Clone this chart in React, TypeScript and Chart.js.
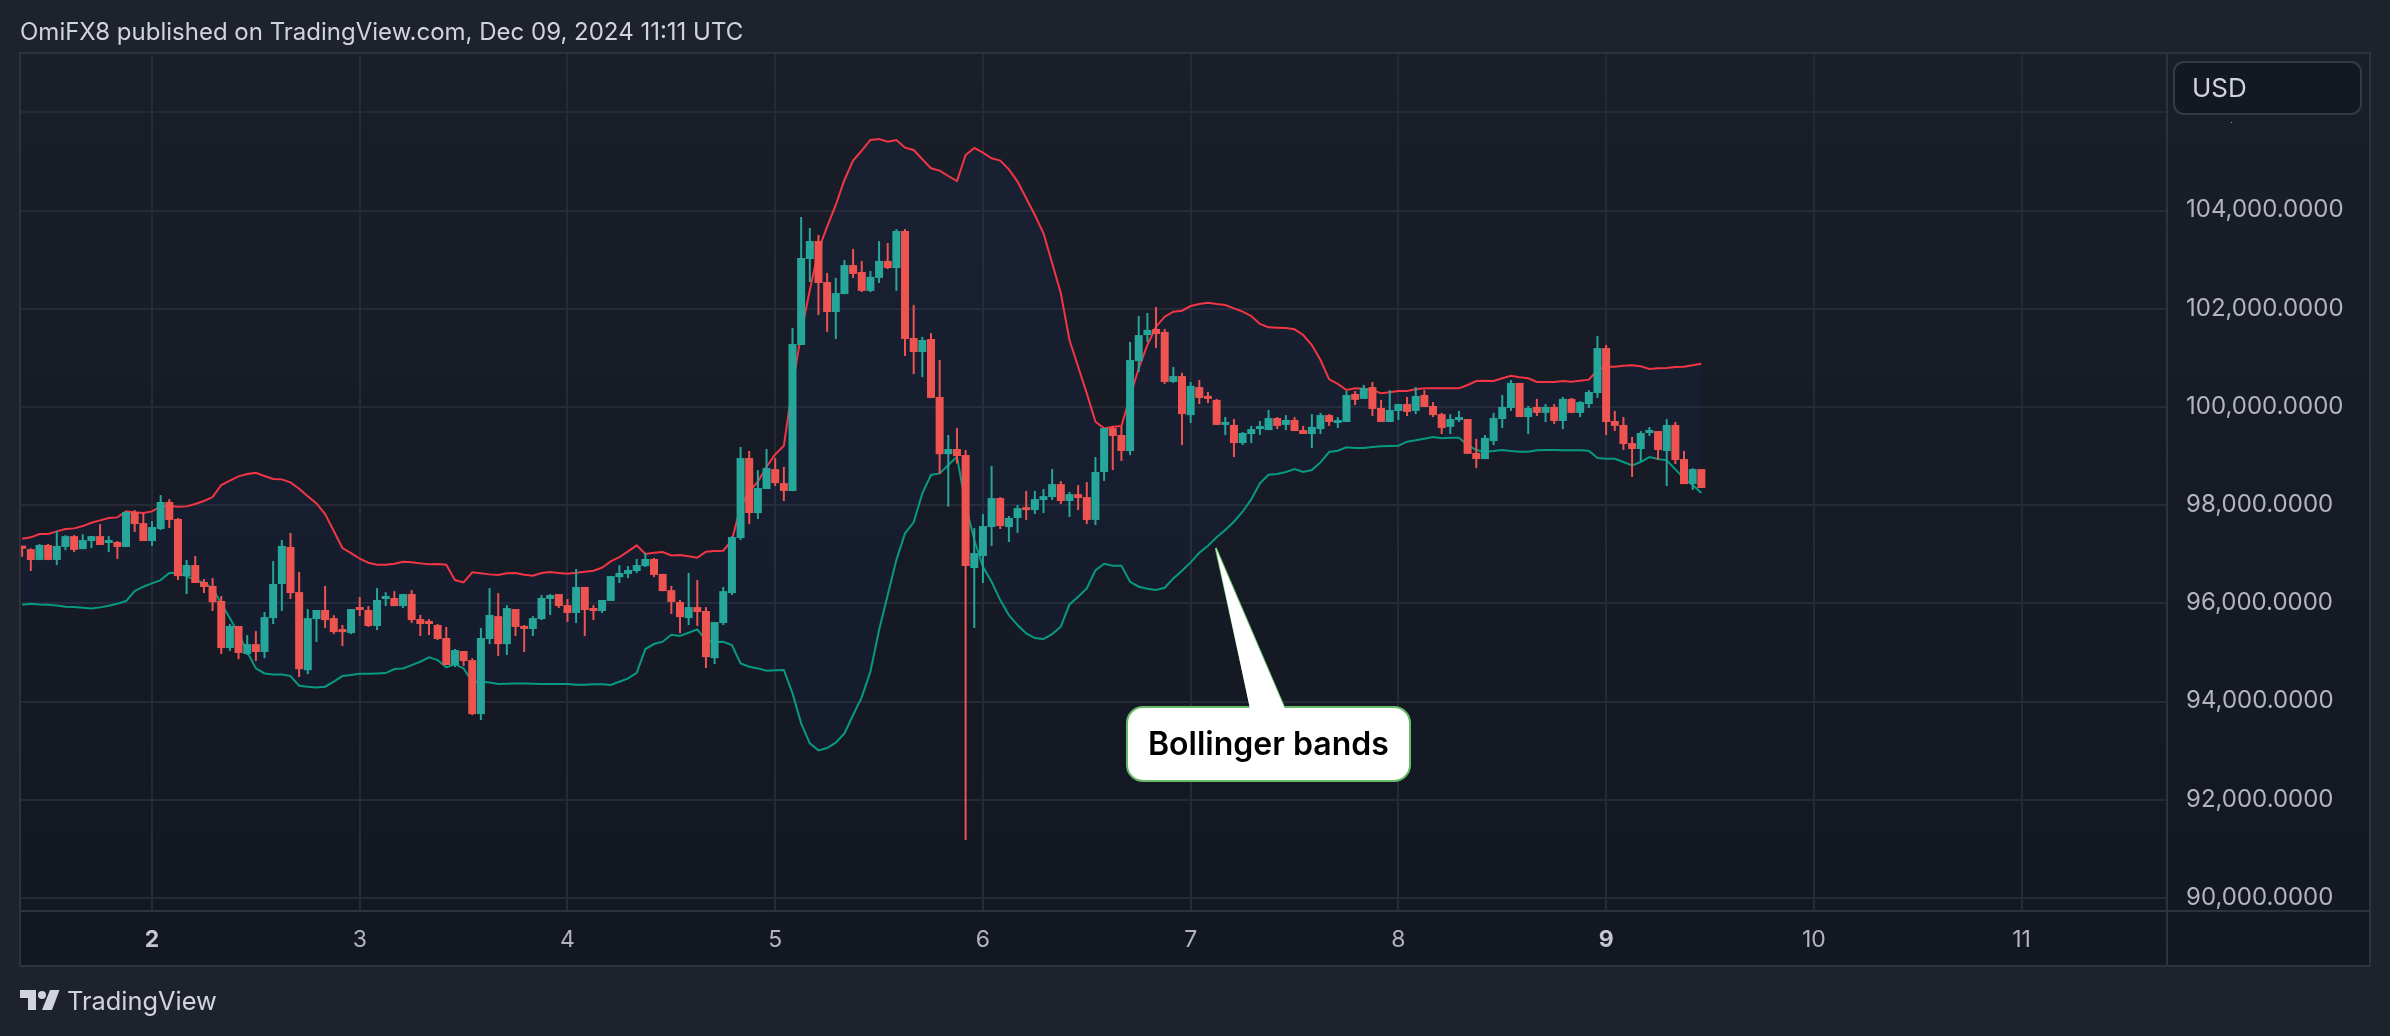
import { useEffect, useRef } from 'react';
import { Chart, registerables, type ChartConfiguration } from 'chart.js';

Chart.register(...registerables);

// hourly candles, hour 0 = Dec 2 00:00 UTC
const firstHour = -15;

const opens = [
  97150, 97105, 96885, 97190, 96885, 97150, 97370, 97105, 97270, 97370, 97230, 97250, 97150, 97860, 97635,
  97270, 97515, 98065, 97720, 96555, 96780, 96435, 96355, 96050, 95090, 95540, 94970, 95170, 95010, 95700, 96395, 97150, 96230, 94640, 95680, 95865, 95700, 95455, 95395,
  95905, 95865, 95540, 96090, 96110, 95945, 96190, 95680, 95620, 95560, 95295, 94745, 95030, 94845, 93745, 95275, 95740, 95170, 95885, 95540, 95480, 95680, 96090, 96190,
  95965, 95805, 96335, 95885, 95845, 96050, 96535, 96600, 96660, 96760, 96905, 96600, 96270, 96030, 95700, 95925, 95845, 94885, 95600, 96210, 97330, 98960, 97840, 98330,
  98735, 98450, 98290, 101265, 103015, 103380, 102545, 101935, 102300, 102890, 102750, 102365, 102630, 102975, 102830, 103585, 101405, 101120, 101385, 100205, 99040, 99145, 99020, 96720,
  96965, 97555, 98145, 97555, 97740, 97940, 97900, 98105, 98165, 98430, 98085, 98225, 98165, 97700, 98675, 99570, 99430, 99105, 100935, 101465, 101590, 101530, 100510, 100630,
  99835, 100405, 100205, 100145, 99635, 99635, 99265, 99450, 99550, 99530, 99775, 99635, 99735, 99530, 99450, 99550, 99835, 99675, 99695, 100265, 100165, 100405, 99980, 99695,
  99920, 100060, 99920, 100245, 100020, 99855, 99595, 99735, 99755, 99065, 98940, 99305, 99755, 99980, 100490, 99795, 100000, 99880, 100000, 99715, 100165, 99880, 100060, 100285,
  101200, 99715, 99635, 99265, 99145, 99470, 99510, 99105, 99635, 98940, 98430, 98735,
];

const highs = [
  97170, 97120, 97210, 97210, 97475, 97390, 97390, 97410, 97375, 97615, 97370, 97270, 97880, 97900, 97840,
  97675, 98205, 98125, 97740, 96885, 96965, 96495, 96515, 96150, 95580, 95540, 95355, 95435, 95825, 96860, 97290, 97435, 96640, 95885, 95865, 96355, 95760, 95560, 95885,
  96130, 95945, 96310, 96230, 96250, 96190, 96270, 95765, 95680, 95580, 95520, 95070, 95030, 94885, 95500, 96310, 96210, 95965, 95885, 95560, 95740, 96170, 96190, 96190,
  96090, 96700, 96335, 95965, 96070, 96560, 96780, 96760, 96905, 97025, 96925, 96600, 96355, 96070, 96620, 96475, 95925, 95620, 96335, 97370, 99185, 99105, 98715, 99145,
  98960, 98780, 101610, 103870, 103645, 103505, 102730, 102630, 102995, 103220, 102975, 102770, 103380, 103340, 103625, 103625, 102080, 101425, 101505, 100955, 99430, 99570, 99125, 97535,
  97820, 98800, 98165, 97780, 98005, 98290, 98290, 98330, 98735, 98490, 98270, 98410, 98470, 98980, 99575, 99595, 99595, 101325, 101855, 101915, 102035, 101590, 100815, 100695,
  100510, 100550, 100305, 100165, 99795, 99755, 99490, 99615, 99715, 99940, 99795, 99835, 99795, 99615, 99855, 99880, 99855, 99795, 100325, 100325, 100450, 100510, 100145, 100345,
  100060, 100205, 100405, 100345, 100100, 99880, 99855, 99920, 99755, 99350, 99430, 99880, 100245, 100550, 100490, 100020, 100165, 100060, 100060, 100205, 100185, 100120, 100345, 101445,
  101265, 99920, 99795, 99390, 99510, 99590, 99510, 99755, 99695, 99105, 98755, 98735,
];

const lows = [
  96950, 96660, 96880, 96880, 96780, 97085, 97045, 97105, 97125, 97190, 97045, 96905, 97145, 97455, 97270,
  97170, 97495, 97535, 96475, 96190, 96415, 96210, 95845, 94970, 95030, 94865, 94950, 94825, 94885, 95580, 95845, 96090, 94500, 94560, 95215, 95500, 95375, 95130, 95375,
  95740, 95520, 95455, 95945, 95945, 95905, 95600, 95335, 95355, 95255, 94745, 94705, 94725, 93725, 93625, 95170, 94930, 94950, 95335, 95010, 95335, 95660, 95765, 95905,
  95620, 95600, 95335, 95660, 95805, 96050, 96415, 96515, 96620, 96740, 96535, 96250, 95785, 95395, 95560, 95540, 94685, 94765, 95560, 96170, 97290, 97615, 97720, 98330,
  98390, 98085, 98285, 101260, 102545, 101875, 101530, 101385, 102300, 102630, 102340, 102340, 102525, 102810, 102365, 101040, 100670, 100610, 100180, 98635, 97970, 98850, 91180, 95500,
  96415, 97170, 97515, 97250, 97435, 97700, 97820, 97840, 98105, 98025, 97760, 97900, 97615, 97595, 98495, 98715, 98900, 99020, 100715, 101325, 101200, 100470, 100490, 99225,
  99675, 100060, 100080, 99635, 99430, 98980, 99225, 99265, 99430, 99530, 99550, 99530, 99510, 99450, 99165, 99450, 99615, 99570, 99695, 100040, 100165, 99815, 99695, 99695,
  99735, 99815, 99855, 100000, 99795, 99450, 99450, 99695, 99045, 98755, 98940, 99225, 99570, 99920, 99795, 99450, 99815, 99695, 99655, 99550, 99880, 99795, 99980, 100185,
  99430, 99510, 99125, 98575, 98900, 99410, 98920, 98390, 98840, 98430, 98310, 98350,
];

const closes = [
  97115, 96885, 97190, 96885, 97170, 97370, 97090, 97290, 97370, 97190, 97270, 97150, 97860, 97615, 97270,
  97555, 98065, 97700, 96555, 96780, 96415, 96335, 96025, 95090, 95540, 94990, 95170, 95010, 95720, 96395, 97170, 96210, 94660, 95700, 95865, 95660, 95415, 95415, 95885,
  95865, 95540, 96070, 96130, 95945, 96190, 95660, 95580, 95580, 95275, 94745, 95050, 94825, 93745, 95295, 95765, 95170, 95905, 95520, 95480, 95700, 96110, 96170, 95945,
  95805, 96335, 95865, 95845, 96070, 96555, 96620, 96680, 96780, 96905, 96580, 96250, 96030, 95720, 95925, 95825, 94905, 95620, 96250, 97350, 98960, 97840, 98350, 98755,
  98450, 98290, 101285, 103035, 103380, 102525, 101935, 102320, 102890, 102710, 102365, 102650, 102975, 102830, 103585, 101385, 101120, 101365, 100185, 99040, 99145, 99000, 96760, 97025,
  97575, 98145, 97575, 97740, 97940, 97900, 98125, 98185, 98430, 98085, 98225, 98145, 97700, 98675, 99570, 99410, 99105, 100955, 101465, 101570, 101485, 100510, 100630, 99855,
  100430, 100185, 100165, 99635, 99675, 99265, 99470, 99550, 99595, 99775, 99615, 99735, 99510, 99450, 99595, 99835, 99695, 99715, 100245, 100145, 100385, 99960, 99695, 99940,
  100060, 99900, 100225, 100000, 99835, 99570, 99755, 99775, 99045, 98940, 99370, 99775, 100000, 100490, 99795, 99980, 99880, 100000, 99715, 100165, 99880, 100100, 100305, 101200,
  99695, 99615, 99245, 99145, 99470, 99510, 99125, 99635, 98920, 98430, 98735, 98350,
];

const upperBand = [
  97317, 97345, 97412, 97412, 97467, 97514, 97528, 97575, 97643, 97691, 97738, 97752, 97874, 97854, 97840,
  97874, 97976, 97983, 97969, 97976, 98024, 98085, 98166, 98411, 98499, 98587, 98635, 98662, 98594, 98533, 98526, 98465, 98336, 98180, 98037, 97820, 97474, 97127, 97025,
  96910, 96828, 96788, 96788, 96808, 96849, 96836, 96815, 96795, 96802, 96788, 96476, 96428, 96632, 96612, 96591, 96578, 96612, 96618, 96585, 96564, 96618, 96639, 96618,
  96605, 96625, 96646, 96666, 96727, 96856, 96944, 97060, 97182, 97006, 97033, 97046, 96978, 96985, 96958, 96931, 97053, 97067, 97073, 97291, 97970, 98275, 98479, 98784,
  99036, 99212, 100414, 101500, 102383, 103198, 103673, 104115, 104624, 105018, 105221, 105439, 105459, 105405, 105439, 105282, 105235, 105045, 104861, 104814, 104705, 104603, 105133, 105276,
  105181, 105065, 105018, 104841, 104590, 104250, 103911, 103537, 102926, 102315, 101365, 100821, 100278, 99701, 99565, 99599, 99613, 100210, 100788, 101263, 101636, 101840, 101942, 101962,
  102057, 102098, 102125, 102098, 102078, 102010, 101942, 101854, 101691, 101623, 101616, 101609, 101582, 101467, 101263, 100957, 100564, 100469, 100346, 100380, 100373, 100346, 100278, 100299,
  100326, 100326, 100360, 100380, 100380, 100380, 100380, 100380, 100448, 100530, 100536, 100529, 100584, 100638, 100604, 100584, 100509, 100509, 100509, 100529, 100516, 100536, 100557, 100754,
  100821, 100821, 100842, 100849, 100828, 100774, 100787, 100794, 100815, 100821, 100849, 100883,
];

const lowerBand = [
  95973, 95993, 95980, 95973, 95959, 95932, 95925, 95912, 95898, 95919, 95953, 95993, 96048, 96251, 96340,
  96407, 96475, 96618, 96625, 96557, 96475, 96421, 96306, 96000, 95695, 95389, 95015, 94676, 94574, 94554, 94554, 94520, 94323, 94303, 94289, 94303, 94405, 94520, 94540,
  94567, 94567, 94574, 94581, 94662, 94676, 94744, 94812, 94901, 94846, 94697, 94765, 94676, 94405, 94405, 94391, 94357, 94364, 94371, 94371, 94364, 94357, 94357, 94357,
  94357, 94344, 94344, 94351, 94351, 94337, 94405, 94473, 94588, 95070, 95172, 95220, 95362, 95335, 95403, 95471, 95254, 95213, 95220, 95152, 94778, 94710, 94676, 94629,
  94636, 94643, 94167, 93556, 93149, 93006, 93054, 93163, 93353, 93726, 94086, 94609, 95458, 96170, 96883, 97427, 97651, 98241, 98615, 98648, 98818, 98988, 98003, 97290,
  96747, 96441, 96068, 95762, 95559, 95389, 95294, 95274, 95375, 95525, 95980, 96136, 96306, 96672, 96808, 96767, 96767, 96441, 96340, 96299, 96272, 96319, 96509, 96665,
  96835, 97032, 97175, 97345, 97494, 97664, 97867, 98119, 98445, 98621, 98635, 98675, 98736, 98675, 98716, 98872, 99083, 99110, 99178, 99165, 99165, 99185, 99199, 99206,
  99212, 99294, 99321, 99355, 99389, 99362, 99375, 99375, 99226, 99124, 99090, 99104, 99124, 99104, 99090, 99090, 99117, 99124, 99124, 99117, 99117, 99117, 99110, 98961,
  98947, 98947, 98879, 98812, 98879, 98981, 98941, 98913, 98730, 98547, 98411, 98248,
];

const priceTicks = [90000, 92000, 94000, 96000, 98000, 100000, 102000, 104000, 106000];
const dayTicks = [0, 24, 48, 72, 96, 120, 144, 168, 192, 216];
const dayLabels = ['2', '3', '4', '5', '6', '7', '8', '9', '10', '11'];
const boldDays = ['2', '9'];

const UP = '#26a69a';
const DOWN = '#ef5350';
const GRID = '#262a34';
const BORDER = '#2e323d';
const FONT = 'Inter, "Noto Sans", sans-serif';

const hours = opens.map((_, k) => firstHour + k);
const candleColors = opens.map((o, k) => (closes[k] >= o ? UP : DOWN));

const isBoldTick = (ctx: any) => boldDays.includes(dayLabels[dayTicks.indexOf(ctx.tick?.value)]);

const framePlugin = {
  id: 'frame',
  beforeDraw(chart: Chart) {
    const { ctx, width, height } = chart;
    ctx.save();
    ctx.fillStyle = '#1e222d';
    ctx.fillRect(0, 0, width, height);
    const grad = ctx.createLinearGradient(0, 53, 0, 966);
    grad.addColorStop(0, '#1a1e29');
    grad.addColorStop(1, '#131722');
    ctx.fillStyle = grad;
    ctx.fillRect(20, 53, 2350, 913);
    ctx.restore();
  },
  afterDraw(chart: Chart) {
    const { ctx } = chart;
    ctx.save();
    ctx.strokeStyle = BORDER;
    ctx.lineWidth = 2;
    ctx.strokeRect(20, 53, 2350, 913);
    ctx.beginPath();
    ctx.moveTo(20, 911);
    ctx.lineTo(2370, 911);
    ctx.moveTo(2167, 53);
    ctx.lineTo(2167, 966);
    ctx.stroke();

    // USD box over the price scale
    ctx.beginPath();
    ctx.roundRect(2174, 62, 187, 52, 10);
    ctx.fillStyle = '#141823';
    ctx.fill();
    ctx.strokeStyle = '#363a45';
    ctx.stroke();
    ctx.fillStyle = '#d1d4dc';
    ctx.font = `26px ${FONT}`;
    ctx.textBaseline = 'alphabetic';
    ctx.fillText('USD', 2192, 97);
    ctx.fillStyle = '#9a9da6';
    ctx.fillRect(2231, 122, 1, 1);
    ctx.restore();
  },
};

const calloutHour = 122.9;
const calloutPrice = 97128;

const calloutPlugin = {
  id: 'callout',
  afterDraw(chart: Chart) {
    const { ctx, scales } = chart;
    const tipX = scales.x.getPixelForValue(calloutHour);
    const tipY = scales.y.getPixelForValue(calloutPrice);
    ctx.save();
    ctx.fillStyle = '#ffffff';
    ctx.strokeStyle = '#66bb6a';
    ctx.lineWidth = 2;
    ctx.beginPath();
    ctx.roundRect(1127, 707, 283, 74, 16);
    ctx.fill();
    ctx.stroke();
    ctx.beginPath();
    ctx.moveTo(1251, 707);
    ctx.lineTo(tipX, tipY);
    ctx.lineTo(1284, 707);
    ctx.stroke();
    ctx.beginPath();
    ctx.moveTo(1250, 709);
    ctx.lineTo(tipX, tipY);
    ctx.lineTo(1285, 709);
    ctx.closePath();
    ctx.fill();
    ctx.fillStyle = '#000000';
    ctx.font = `600 32px ${FONT}`;
    ctx.textBaseline = 'alphabetic';
    ctx.fillText('Bollinger bands', 1148, 755);
    ctx.restore();
  },
};

export default function App() {
  const canvasRef = useRef<HTMLCanvasElement>(null);

  useEffect(() => {
    if (!canvasRef.current) return;

    const config: ChartConfiguration = {
      type: 'bar',
      data: {
        datasets: [
          {
            type: 'line',
            label: 'Upper',
            data: hours.map((h, k) => ({ x: h, y: upperBand[k] })),
            borderColor: '#f23645',
            borderWidth: 2,
            pointRadius: 0,
            tension: 0,
            fill: '+1',
            backgroundColor: 'rgba(20,80,220,0.06)',
            order: 4,
          },
          {
            type: 'line',
            label: 'Lower',
            data: hours.map((h, k) => ({ x: h, y: lowerBand[k] })),
            borderColor: '#089981',
            borderWidth: 2,
            pointRadius: 0,
            tension: 0,
            fill: false,
            order: 3,
          },
          {
            label: 'Wicks',
            data: hours.map((h, k) => ({ x: h, y: [lows[k], highs[k]] })),
            backgroundColor: candleColors,
            barThickness: 2,
            grouped: false,
            inflateAmount: 0,
            order: 2,
          },
          {
            label: 'Bodies',
            data: hours.map((h, k) => ({ x: h, y: [opens[k], closes[k]] })),
            backgroundColor: candleColors,
            barThickness: 8,
            minBarLength: 3,
            grouped: false,
            inflateAmount: 0,
            order: 1,
          },
        ],
      } as any,
      options: {
        responsive: false,
        animation: false,
        devicePixelRatio: 1,
        layout: { padding: { left: 20, top: 53, right: 20, bottom: 70 } },
        plugins: {
          legend: { display: false },
          tooltip: { enabled: false },
        },
        scales: {
          x: {
            type: 'linear',
            min: -15.25,
            max: 232.8,
            offset: false,
            afterFit: (s: any) => { s.height = 55; },
            afterBuildTicks: (s: any) => { s.ticks = dayTicks.map((value) => ({ value })); },
            grid: { color: GRID, lineWidth: 2, drawTicks: false, offset: false },
            border: { display: false },
            ticks: {
              autoSkip: false,
              maxRotation: 0,
              padding: 15,
              color: (ctx: any) => (isBoldTick(ctx) ? '#c4c7d0' : '#b2b5be'),
              font: (ctx: any) => ({ family: FONT, size: 23, weight: isBoldTick(ctx) ? 'bold' : 'normal' }),
              callback: (v: any) => dayLabels[dayTicks.indexOf(Number(v))],
            },
          },
          y: {
            type: 'linear',
            position: 'right',
            min: 89735,
            max: 107210,
            afterFit: (s: any) => { s.width = 203; },
            afterBuildTicks: (s: any) => { s.ticks = priceTicks.map((value) => ({ value })); },
            grid: { color: GRID, lineWidth: 2, drawTicks: false },
            border: { display: false },
            ticks: {
              autoSkip: false,
              padding: 19,
              labelOffset: -0.5,
              color: '#b2b5be',
              font: { family: FONT, size: 24 },
              callback: (v: any) =>
                Number(v) > 104000
                  ? ''
                  : Number(v).toLocaleString('en-US', { minimumFractionDigits: 4, maximumFractionDigits: 4 }),
            },
          },
        },
      },
      plugins: [framePlugin, calloutPlugin],
    };

    const chart = new Chart(canvasRef.current, config);
    return () => chart.destroy();
  }, []);

  return (
    <div style={{ position: 'absolute', left: 0, top: 0, width: 2390, height: 1036, overflow: 'hidden', background: '#1e222d', fontFamily: FONT }}>
      <canvas ref={canvasRef} width={2390} height={1036} style={{ display: 'block', width: 2390, height: 1036 }} />
      <div style={{ position: 'absolute', left: 20, top: 17, fontSize: 24, lineHeight: '29px', color: '#d1d4dc', whiteSpace: 'nowrap' }}>
        OmiFX8 published on TradingView.com, Dec 09, 2024 11:11 UTC
      </div>
      <svg style={{ position: 'absolute', left: 20, top: 990 }} width={40} height={20} viewBox="0 0 40 20">
        <path d="M0 0H16V20H8V8H0Z" fill="#d1d4dc" />
        <circle cx="22" cy="5" r="4" fill="#d1d4dc" />
        <path d="M30 0H39.5L32 20H22Z" fill="#d1d4dc" />
      </svg>
      <div style={{ position: 'absolute', left: 67, top: 985, fontSize: 25.4, lineHeight: '32px', color: '#d1d4dc', whiteSpace: 'nowrap' }}>
        TradingView
      </div>
    </div>
  );
}
